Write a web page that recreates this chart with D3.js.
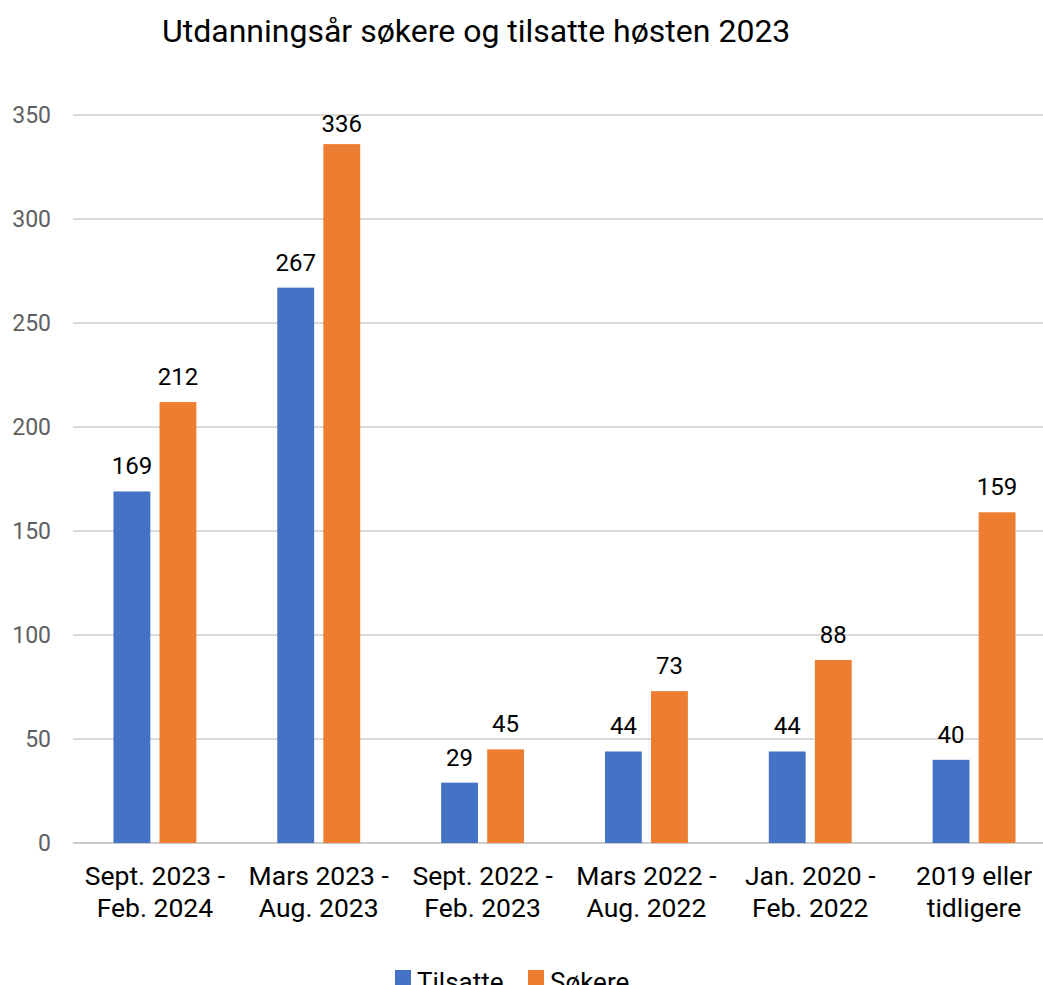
<!DOCTYPE html>
<meta charset="utf-8">
<style>
body {
  margin: 0;
  font-family: Roboto, sans-serif;
  background: #fff;
}
.ylab {
  fill: #5f5f5f;
  font-size: 23px;
}
.xlab {
  fill: #000;
  font-size: 26.5px;
}
.val {
  fill: #000;
  font-size: 24px;
}
</style>
<body>
<script src="https://cdn.jsdelivr.net/npm/d3@7"></script>
<script>
var categories = [
  ["Sept. 2023 -", "Feb. 2024"],
  ["Mars 2023 -", "Aug. 2023"],
  ["Sept. 2022 -", "Feb. 2023"],
  ["Mars 2022 -", "Aug. 2022"],
  ["Jan. 2020 -", "Feb. 2022"],
  ["2019 eller", "tidligere"]
];
var series = ["Tilsatte", "Søkere"];
var tilsatte = [169, 267, 29, 44, 44, 40];
var sokere = [212, 336, 45, 73, 88, 159];
var yTicks = [0, 50, 100, 150, 200, 250, 300, 350];
var colors = ["#4472c4", "#ed7d31"];

var width = 1043, height = 985;
var plotLeft = 73, plotRight = 1056;
var plotTop = 115, plotBottom = 843;

var svg = d3.select("body").append("svg")
    .attr("width", width)
    .attr("height", height);

var idx = categories.map(function(d, i) { return i; });

var x0 = d3.scaleBand()
    .domain(idx)
    .range([plotLeft, plotRight])
    .paddingInner(0.494)
    .paddingOuter(0.247);

var x1 = d3.scaleBand()
    .domain(series)
    .range([0, x0.bandwidth()])
    .paddingInner(0.2);

var y = d3.scaleLinear().domain([0, 350]).range([plotBottom, plotTop]);

// title
svg.append("text")
    .attr("x", 162)
    .attr("y", 42)
    .style("font-size", "32px")
    .style("fill", "#000")
    .text("Utdanningsår søkere og tilsatte høsten 2023");

// grid
svg.append("g")
  .selectAll("line")
    .data(yTicks)
  .enter().append("line")
    .attr("x1", plotLeft)
    .attr("x2", width)
    .attr("y1", function(d) { return Math.round(y(d)); })
    .attr("y2", function(d) { return Math.round(y(d)); })
    .style("stroke", function(d) { return d === 0 ? "#cccccc" : "#dadada"; })
    .style("stroke-width", 2);

svg.selectAll(".ylab")
    .data(yTicks)
  .enter().append("text")
    .attr("class", "ylab")
    .attr("x", 51)
    .attr("y", function(d) { return y(d); })
    .attr("dy", "0.35em")
    .style("text-anchor", "end")
    .text(function(d) { return d; });

var rows = idx.map(function(i) {
  return [
    {key: series[0], value: tilsatte[i], c: colors[0]},
    {key: series[1], value: sokere[i], c: colors[1]}
  ];
});

var groups = svg.selectAll(".grp")
    .data(rows)
  .enter().append("g")
    .attr("class", "grp")
    .attr("transform", function(d, i) { return "translate(" + x0(i) + ",0)"; });

groups.selectAll("rect")
    .data(function(d) { return d; })
  .enter().append("rect")
    .attr("x", function(d) { return x1(d.key); })
    .attr("width", x1.bandwidth())
    .attr("y", function(d) { return y(d.value); })
    .attr("height", function(d) { return y(0) - y(d.value); })
    .style("fill", function(d) { return d.c; });

// labels are kept below the top gridline area
groups.selectAll(".val")
    .data(function(d) { return d; })
  .enter().append("text")
    .attr("class", "val")
    .attr("x", function(d) { return x1(d.key) + x1.bandwidth() / 2; })
    .attr("y", function(d) { return Math.max(y(d.value) - 17, 132); })
    .style("text-anchor", "middle")
    .text(function(d) { return d.value; });

// x labels
var xl = svg.selectAll(".xlab")
    .data(categories)
  .enter().append("text")
    .attr("class", "xlab")
    .attr("x", function(d, i) { return x0(i) + x0.bandwidth() / 2; })
    .attr("y", 885)
    .style("text-anchor", "middle");

xl.selectAll("tspan")
    .data(function(d) { return d; })
  .enter().append("tspan")
    .attr("x", function() { return this.parentNode.getAttribute("x"); })
    .attr("dy", function(d, i) { return i === 0 ? 0 : 32; })
    .text(function(d) { return d; });

// legend
var legendX = [395, 528];
var legend = svg.selectAll(".legend")
    .data(series)
  .enter().append("g")
    .attr("class", "legend")
    .attr("transform", function(d, i) { return "translate(" + legendX[i] + ",970)"; });

legend.append("rect")
    .attr("width", 16)
    .attr("height", 16)
    .style("fill", function(d, i) { return colors[i]; });

legend.append("text")
    .attr("x", 22)
    .attr("y", 21)
    .style("font-size", "26px")
    .style("fill", "#000")
    .text(function(d) { return d; });
</script>
</body>
</html>
